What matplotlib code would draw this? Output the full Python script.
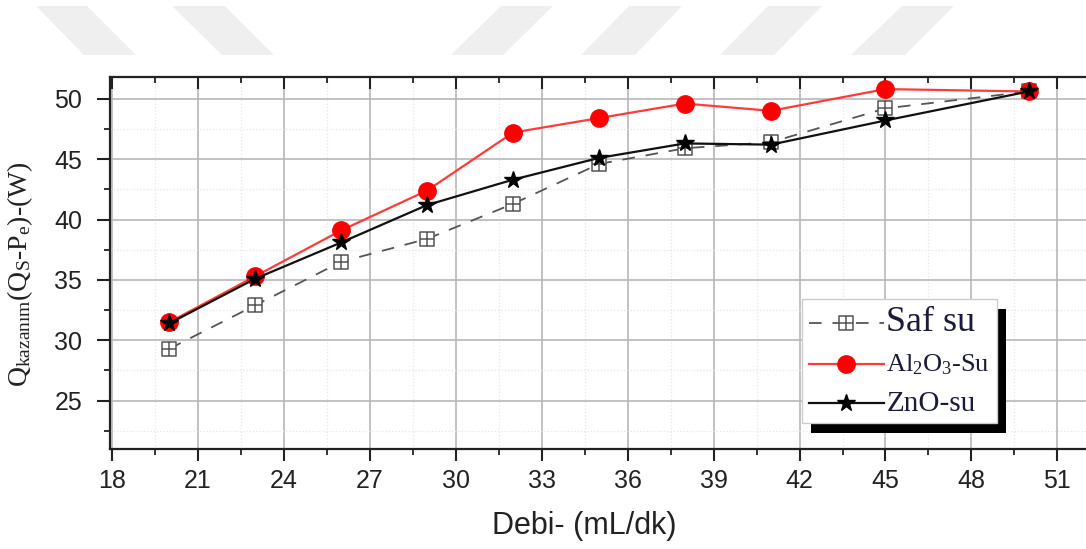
import matplotlib
matplotlib.use("Agg")
import matplotlib.pyplot as plt
from matplotlib.path import Path
from matplotlib.patches import Polygon, Rectangle
from matplotlib.ticker import MultipleLocator

# ---- data ----
flow = [20, 23, 26, 29, 32, 35, 38, 41, 45, 50]
saf_su = [29.3, 32.9, 36.5, 38.4, 41.3, 44.6, 45.9, 46.4, 49.2, 50.6]
al2o3_su = [31.5, 35.3, 39.1, 42.4, 47.2, 48.4, 49.6, 49.0, 50.8, 50.6]
zno_su = [31.4, 35.1, 38.1, 41.2, 43.3, 45.1, 46.3, 46.2, 48.2, 50.6]
x_ticks = [18, 21, 24, 27, 30, 33, 36, 39, 42, 45, 48, 51]
y_ticks = [25, 30, 35, 40, 45, 50]
labels = ["Saf su", "Al$_2$O$_3$-Su", "ZnO-su"]

plt.rcParams['mathtext.fontset'] = 'custom'
plt.rcParams['mathtext.rm'] = 'Liberation Serif'
plt.rcParams['mathtext.it'] = 'Liberation Serif'
plt.rcParams['mathtext.default'] = 'regular'

W, H = 1086, 549
fig = plt.figure(figsize=(W / 100, H / 100), dpi=100)
PT = 72 / 100  # points per pixel

# watermark shapes (figure pixel coords)
wm = [((36, 87), (84, 136)), ((172, 225), (222, 274)),
      ((501, 553), (451, 503)), ((629, 682), (581, 635)),
      ((768, 822), (720, 774)), ((902, 954), (851, 905))]
for (t0, t1), (b0, b1) in wm:
    pts = [(t0 / W, 1 - 6 / H), (t1 / W, 1 - 6 / H), (b1 / W, 1 - 55 / H), (b0 / W, 1 - 55 / H)]
    fig.patches.append(Polygon(pts, closed=True, transform=fig.transFigure,
                               facecolor='#efefef', edgecolor='none', zorder=0))

left, right, top, bottom = 110, 1086, 77, 449
ax = fig.add_axes([left / W, 1 - bottom / H, (right - left) / W, (bottom - top) / H])
ax.set_xlim(17.93, 52.0)
ax.set_ylim(21.0, 51.8)

ax.xaxis.set_minor_locator(MultipleLocator(1.5))
ax.yaxis.set_minor_locator(MultipleLocator(2.5))
ax.set_xticks(x_ticks)
ax.set_yticks(y_ticks)

ax.grid(which='major', color='#b8b8b8', linewidth=1.2)
ax.grid(which='minor', color='#e6e6e6', linewidth=0.9, linestyle=':')
ax.set_axisbelow(True)

for s in ['left', 'bottom', 'top']:
    ax.spines[s].set_linewidth(1.6)
    ax.spines[s].set_color('#222222')
ax.spines['right'].set_visible(False)

ax.tick_params(axis='both', which='both', colors='#222222', labelsize=18, labelcolor='#222222')
ax.tick_params(axis='x', which='major', direction='out', length=12 * PT, width=1.5, pad=8 * PT,
               top=True)
ax.tick_params(axis='x', which='minor', direction='out', length=6 * PT, width=1.3, top=True)
ax.tick_params(axis='y', which='major', direction='out', length=13 * PT, width=1.5, pad=15 * PT,
               right=True)
ax.tick_params(axis='y', which='minor', direction='out', length=6 * PT, width=1.3, right=True)
for t in ax.xaxis.get_major_ticks() + ax.xaxis.get_minor_ticks():
    t.tick2line.set_marker(3)  # top ticks pointing inward (down)
for t in ax.yaxis.get_major_ticks() + ax.yaxis.get_minor_ticks():
    t.tick2line.set_marker(1)  # right ticks pointing inward (left)
for lab in ax.get_xticklabels() + ax.get_yticklabels():
    lab.set_family('Liberation Sans')

# custom square-with-plus marker
sq_plus = Path([(-1, -1), (1, -1), (1, 1), (-1, 1), (-1, -1), (0, -1), (0, 1), (-1, 0), (1, 0)],
               [Path.MOVETO, Path.LINETO, Path.LINETO, Path.LINETO, Path.CLOSEPOLY,
                Path.MOVETO, Path.LINETO, Path.MOVETO, Path.LINETO])

l1, = ax.plot(flow, saf_su, color='#555555', linestyle=(0, (7, 6)), linewidth=1.3,
              marker=sq_plus, markersize=10.5, markerfacecolor='white',
              markeredgecolor='#555555', markeredgewidth=1.1, zorder=3)
l2, = ax.plot(flow, al2o3_su, color='#ff3b3b', linewidth=1.6, marker='o', markersize=12.5,
              markerfacecolor='#ff0000', markeredgecolor='#ff0000', zorder=4)
l3, = ax.plot(flow, zno_su, color='#111111', linewidth=1.6, marker='*', markersize=13,
              markerfacecolor='black', markeredgecolor='black', zorder=5)

ax.set_xlabel("Debi- (mL/dk)", fontsize=22, family='Liberation Sans', color='#222222')
ax.xaxis.set_label_coords(0.486, -0.168)
ax.set_ylabel(r"Q$_{\mathrm{kazanım}}$(Q$_{\mathrm{S}}$-P$_{\mathrm{e}}$)-(W)",
              fontsize=20, family='Liberation Serif', color='#222222')
ax.yaxis.set_label_coords(-0.077, 0.47)

# legend
leg = ax.legend([l1, l2, l3], labels, loc='upper left',
                bbox_to_anchor=((802 - left) / (right - left), 1 - (299 - top) / (bottom - top)),
                borderaxespad=0,
                frameon=True, fancybox=False, edgecolor='#cccccc', framealpha=1,
                handlelength=3.4, handletextpad=0.1, borderpad=0.3, labelspacing=0.62,
                prop={'family': 'Liberation Serif', 'size': 16})
leg.set_zorder(10)
leg.get_frame().set_linewidth(1.0)
texts = leg.get_texts()
texts[0].set_fontsize(26)
texts[1].set_fontsize(19)
texts[2].set_fontsize(21)
for t in texts:
    t.set_color('#1a1a3a')

# legend drop shadow (inside the axes, above the grid, below the legend)
shadow = Rectangle((0, 0), 0, 0, transform=fig.transFigure, facecolor='black',
                   edgecolor='none', zorder=9, clip_on=False)
ax.add_patch(shadow)
fig.canvas.draw()
bb = leg.get_window_extent()
shadow.set_bounds((bb.x0 + 9) / W, (bb.y0 - 10) / H, bb.width / W, bb.height / H)
fig.patch.set_facecolor('white')

fig.savefig("out.png", dpi=100, facecolor='white')
